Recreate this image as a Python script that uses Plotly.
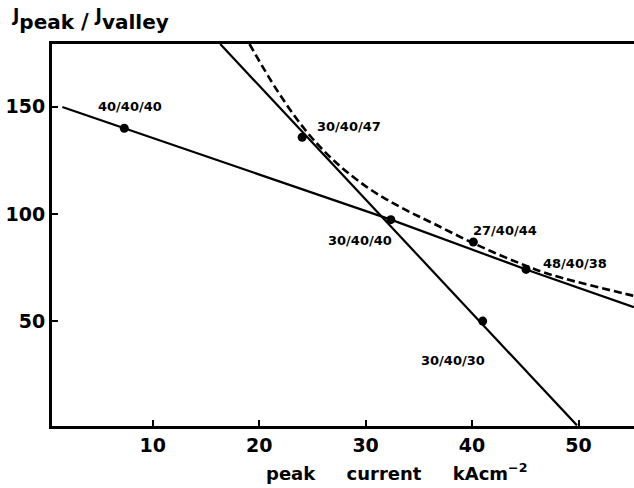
import plotly.graph_objects as go

# Measured points (peak current kA/cm^2, Jpeak/Jvalley)
point_labels = ["40/40/40", "30/40/47", "30/40/40", "27/40/44", "48/40/38", "30/40/30"]
point_x = [7.33, 24.04, 32.37, 40.12, 45.07, 41.0]
point_y = [140.0, 135.8, 97.4, 87.0, 74.2, 50.1]

# Solid line A (shallow)
lineA_x = [1.51, 7.33, 32.37, 45.07, 55.2]
lineA_y = [149.9, 140.0, 97.4, 74.2, 56.6]

# Solid line B (steep)
lineB_x = [16.34, 49.85]
lineB_y = [179.3, 1.5]

# Dashed curve
dash_x = [19.09, 21.67, 24.35, 26.98, 30.12, 33.24, 36.37, 40.3, 44.51, 47.63, 55.0, 55.5]
dash_y = [179.3, 157.8, 139.1, 125.1, 112.6, 103.3, 95.6, 86.0, 77.0, 71.4, 62.1, 61.5]

x_ticks = [10, 20, 30, 40, 50]
y_ticks = [50, 100, 150]

# label offsets in pixels relative to the dots (layout only)
label_shift = [(6, 22), (47, 11), (-31, -21), (32, 11), (49, 6), (-30, -39)]

FONT = "DejaVu Sans"

fig = go.Figure()
fig.add_trace(go.Scatter(x=lineA_x, y=lineA_y, mode="lines",
                         line=dict(color="black", width=2.2), hoverinfo="skip"))
fig.add_trace(go.Scatter(x=lineB_x, y=lineB_y, mode="lines",
                         line=dict(color="black", width=2.2), hoverinfo="skip"))
fig.add_trace(go.Scatter(x=dash_x, y=dash_y, mode="lines",
                         line=dict(color="black", width=2.6, dash="8px,4px", shape="spline", smoothing=1.0),
                         hoverinfo="skip"))
fig.add_trace(go.Scatter(x=point_x, y=point_y, mode="markers",
                         marker=dict(color="black", size=9)))

for lab, px, py, (dx, dy) in zip(point_labels, point_x, point_y, label_shift):
    fig.add_annotation(x=px, y=py, xref="x", yref="y", text=lab, showarrow=False,
                       xshift=dx, yshift=dy,
                       font=dict(family=FONT, size=13, color="black", weight="bold"))

# axis titles
fig.add_annotation(xref="paper", yref="paper", x=0.592, y=0, yshift=-46,
                   text="peak\u00a0\u00a0\u00a0\u00a0\u00a0current\u00a0\u00a0\u00a0\u00a0\u00a0kAcm<sup>\u22122</sup>",
                   showarrow=False, yanchor="middle", xanchor="center",
                   font=dict(family=FONT, size=18, color="black", weight="bold"))
fig.add_annotation(xref="paper", yref="paper", x=0, y=1, xshift=-42, yshift=8,
                   text="<sup><span style='font-size:17px'>J</span></sup>peak "
                        "<span style='font-size:21px'>/</span> "
                        "<sup><span style='font-size:17px'>J</span></sup>valley",
                   showarrow=False, xanchor="left", yanchor="bottom",
                   font=dict(family=FONT, size=20, color="black", weight="bold"))

fig.update_layout(
    width=634, height=488,
    margin=dict(l=52, r=0, t=44, b=62),
    paper_bgcolor="white", plot_bgcolor="white",
    showlegend=False,
    xaxis=dict(range=[0.54, 55.21], tickvals=x_ticks, ticks="inside", ticklen=6, tickwidth=2,
               tickcolor="black", showline=True, linewidth=3, linecolor="black", mirror=True,
               showgrid=False, zeroline=False,
               tickfont=dict(family=FONT, size=19, color="black", weight="bold")),
    yaxis=dict(range=[1.2, 179.3], tickvals=y_ticks, ticks="inside", ticklen=6, tickwidth=2,
               tickcolor="black", showline=True, linewidth=3, linecolor="black",
               showgrid=False, zeroline=False,
               tickfont=dict(family=FONT, size=19, color="black", weight="bold")),
)

fig.write_html("out.html", config={"displayModeBar": False},
               post_script="document.body.style.margin='0px';document.body.style.overflow='hidden';")
